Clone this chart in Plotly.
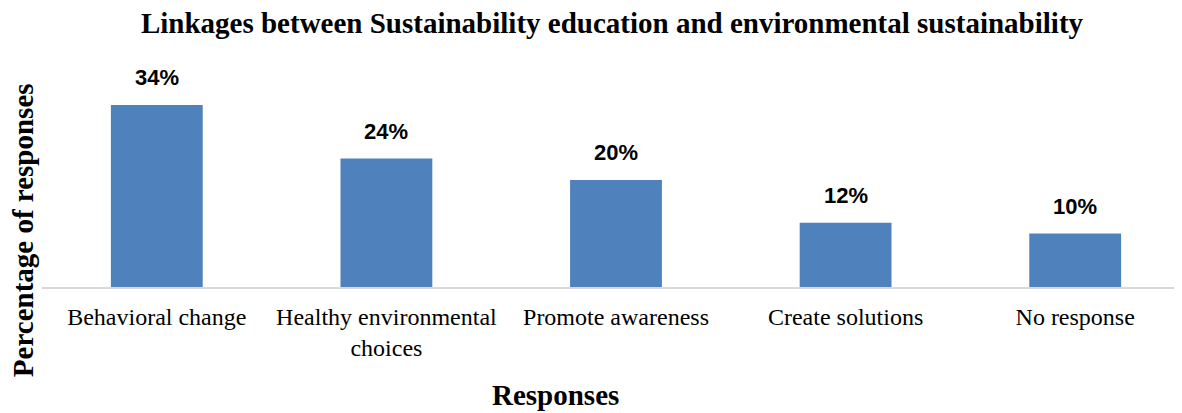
import plotly.graph_objects as go

categories = ["Behavioral change", "Healthy environmental<br>choices", "Promote awareness",
              "Create solutions", "No response"]
values = [34, 24, 20, 12, 10]
labels = ["34%", "24%", "20%", "12%", "10%"]

serif = "Liberation Serif, Times New Roman, serif"
sans = "Liberation Sans, Arial, sans-serif"

fig = go.Figure()
fig.add_trace(go.Bar(x=categories, y=values, marker=dict(color="#4F81BD", line=dict(width=0)),
                     hoverinfo="skip"))

for c, v, t in zip(categories, values, labels):
    fig.add_annotation(x=c, y=v, text="<b>%s</b>" % t, showarrow=False, yanchor="bottom",
                       yshift=13, font=dict(family=sans, size=22, color="#000000"))

fig.add_annotation(xref="paper", yref="paper", x=0.447, y=-0.505, xanchor="center",
                   text="<b>Responses</b>", showarrow=False, yanchor="middle",
                   font=dict(family=serif, size=29, color="#000000"))
fig.add_annotation(xref="paper", yref="paper", x=-0.0165, xanchor="center", y=0.266,
                   yanchor="middle",
                   text="<b>Percentage of responses</b>", showarrow=False, textangle=-90,
                   font=dict(family=serif, size=29, color="#000000"))

fig.update_layout(
    width=1182, height=413,
    margin=dict(l=34, r=0, t=65, b=134, autoexpand=False),
    paper_bgcolor="white", plot_bgcolor="white",
    title=dict(text="<b>Linkages between Sustainability education and environmental sustainability</b>",
               x=604 / 1182, xanchor="center", y=0.964, yanchor="middle",
               font=dict(family=serif, size=29, color="#000000")),
    bargap=0.6,
    showlegend=False,
    xaxis=dict(showline=True, linecolor="#D9D9D9", linewidth=1.5, ticks="", showgrid=False,
               automargin=False, ticklabelstandoff=7,
               tickfont=dict(family=serif, size=24, color="#000000")),
    yaxis=dict(range=[0, 40], showticklabels=False, showgrid=False, zeroline=False,
               showline=False, ticks="", automargin=False),
)

fig.write_html("out.html")
